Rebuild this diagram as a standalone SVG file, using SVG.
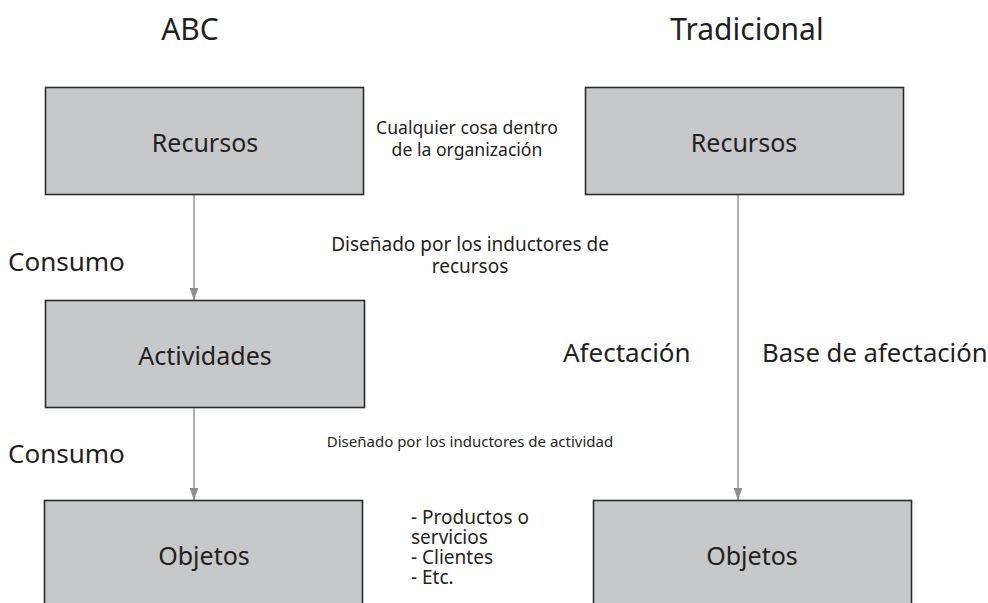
<svg xmlns="http://www.w3.org/2000/svg" width="988" height="603" viewBox="0 0 988 603">
<defs>
<style>
.box{fill:#c7c8ca;stroke:#2b2b2b;stroke-width:1.6}
.lbl{font-family:"Noto Sans","Open Sans",sans-serif;fill:#231f20}
.big{font-size:30px}
.mid{font-size:25px}
.lg{font-size:26px}
.sm{font-size:17.6px}
.ls{font-size:19px}
.c{text-anchor:middle}
.conn{stroke:#8c8d8f;stroke-width:1.4;fill:none}
</style>
<marker id="arr" markerUnits="userSpaceOnUse" markerWidth="12" markerHeight="16" refX="15" refY="5.5" orient="auto" viewBox="0 0 15 11">
<path d="M0,0 L15,5.5 L0,11 Z" fill="#8c8d8f"/>
</marker>
</defs>
<rect width="988" height="603" fill="#ffffff"/>
<g id="titles">
<text class="lbl big c" x="190" y="40">ABC</text>
<text class="lbl big c" x="747" y="40">Tradicional</text>
</g>
<g id="connectors">
<line class="conn" x1="194" y1="195" x2="194" y2="300" marker-end="url(#arr)"/>
<line class="conn" x1="194" y1="408" x2="194" y2="500" marker-end="url(#arr)"/>
<line class="conn" x1="738" y1="195" x2="738" y2="500" marker-end="url(#arr)"/>
</g>
<g id="abc-recursos">
<rect class="box" x="45.5" y="87.5" width="318" height="107"/>
<text class="lbl mid c" x="205" y="152">Recursos</text>
</g>
<g id="abc-actividades">
<rect class="box" x="45.5" y="300.5" width="319" height="107"/>
<text class="lbl mid c" x="205" y="365">Actividades</text>
</g>
<g id="abc-objetos">
<rect class="box" x="44.5" y="500.5" width="318" height="110"/>
<text class="lbl mid c" x="204" y="565">Objetos</text>
</g>
<g id="trad-recursos">
<rect class="box" x="585.5" y="87.5" width="318" height="107"/>
<text class="lbl mid c" x="744" y="152">Recursos</text>
</g>
<g id="trad-objetos">
<rect class="box" x="593.5" y="500.5" width="318" height="110"/>
<text class="lbl mid c" x="752" y="565">Objetos</text>
</g>
<g id="labels">
<text class="lbl sm c"><tspan x="467" y="134">Cualquier cosa dentro</tspan><tspan x="467" y="156">de la organización</tspan></text>
<text class="lbl c" style="font-size:19px"><tspan x="470" y="251">Diseñado por los inductores de</tspan><tspan x="470" y="273">recursos</tspan></text>
<text class="lbl lg" x="8" y="271">Consumo</text>
<text class="lbl lg" x="8" y="463">Consumo</text>
<text class="lbl c" style="font-size:15px" x="470" y="447">Diseñado por los inductores de actividad</text>
<text class="lbl lg" x="563" y="362">Afectación</text>
<text class="lbl" style="font-size:25.7px" x="762" y="362">Base de afectación</text>
<text class="lbl ls"><tspan x="411" y="524">- Productos o</tspan><tspan x="411" y="544">servicios</tspan><tspan x="411" y="564">- Clientes</tspan><tspan x="411" y="584">- Etc.</tspan></text>
</g>
</svg>
